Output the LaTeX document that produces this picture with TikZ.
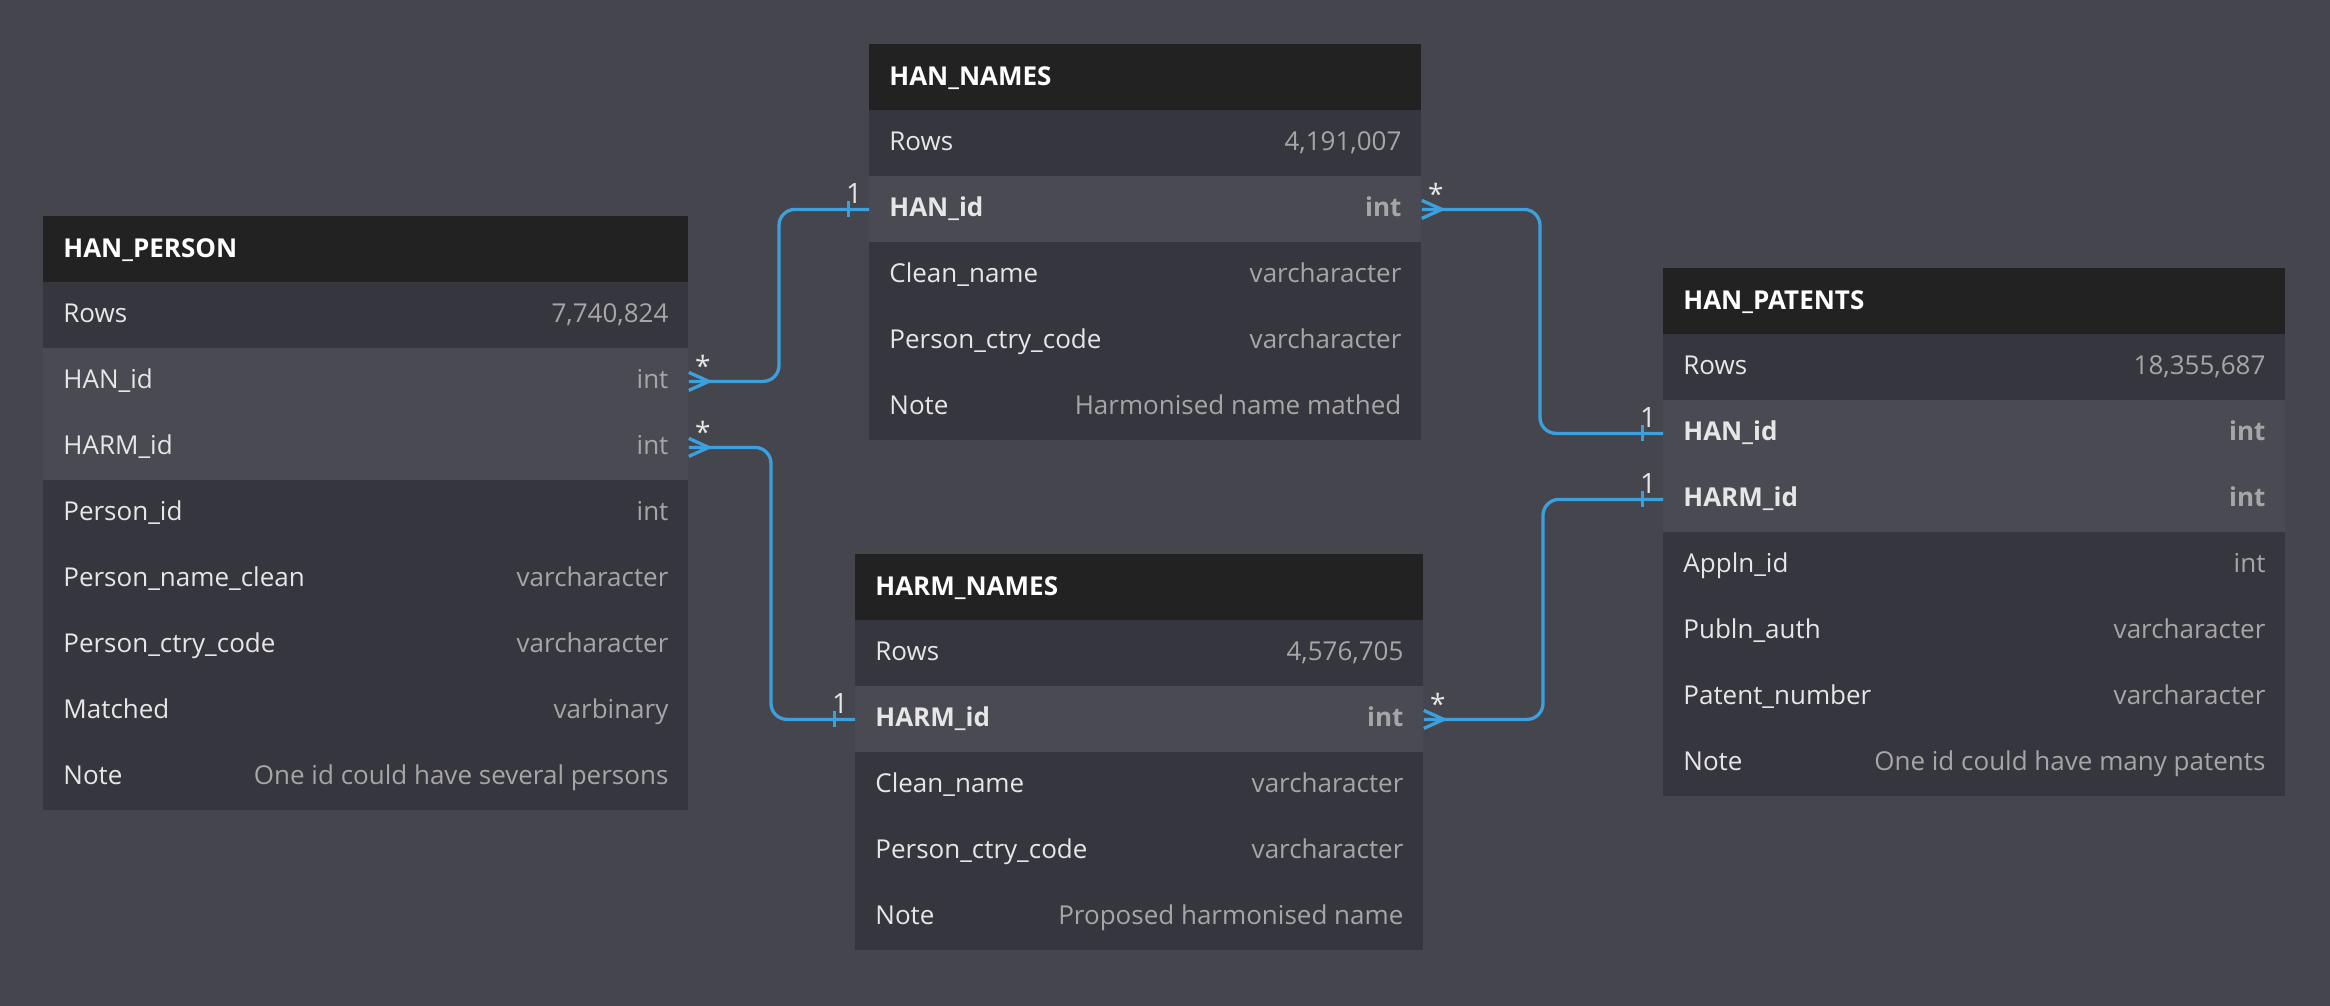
\documentclass[tikz,border=0pt]{standalone}
\usepackage{fontspec}
\setmainfont{Open Sans}
\definecolor{bgc}{HTML}{45454D}
\definecolor{nrmc}{HTML}{36363E}
\definecolor{keyc}{HTML}{4A4A53}
\definecolor{keybc}{HTML}{4A4A53}
\definecolor{hdrc}{HTML}{222222}
\definecolor{bluec}{HTML}{3DA0DC}
\definecolor{namec}{HTML}{E6E6E6}
\definecolor{typec}{HTML}{A6A6A6}
\tikzset{
  hdr/.style={rectangle, fill=hdrc, draw=none, inner sep=0pt, minimum height=33pt},
  rowbox/.style={rectangle, draw=none, inner sep=0pt, minimum height=33pt},
  ttl/.style={inner sep=0pt, text=white, font=\fontsize{13pt}{15pt}\selectfont\bfseries},
  fname/.style={inner sep=0pt, text=namec, font=\fontsize{13pt}{15pt}\selectfont},
  ftype/.style={inner sep=0pt, text=typec, font=\fontsize{13pt}{15pt}\selectfont},
  nrmf/.style={},
  keyf/.style={},
  keybf/.style={font=\fontsize{13pt}{15pt}\selectfont\bfseries},
  rel/.style={draw=bluec, line width=1.65pt, rounded corners=8pt},
  tip/.style={draw=bluec, line width=1.65pt},
  card/.style={inner sep=0pt, text=namec, font=\fontsize{14pt}{16pt}\selectfont},
}
\newcommand\ertable[6]{%
  \node[hdr, minimum width=#4*0.5pt, anchor=north west] (#1) at (#2,#3) {};
  \node[ttl, anchor=base west] (#1-title) at ([xshift=10pt,yshift=-4pt]#1.west) {#5};
  \foreach \lab/\typ/\sty [count=\i] in {#6} {
    \node[rowbox, fill=\sty c, minimum width=#4*0.5pt, anchor=north west] (#1-r\i) at (#2,{#3+66*\i}) {};
    \node[fname, \sty f, anchor=base west] (#1-n\i) at ([xshift=10pt,yshift=-3.5pt]#1-r\i.west) {\lab};
    \node[ftype, \sty f, anchor=base east] (#1-t\i) at ([xshift=-10pt,yshift=-3.5pt]#1-r\i.east) {\typ};
  }
}
\newcommand\crowfoot[1]{%
  \draw[tip] ([yshift=4.5pt]#1.east) -- ([xshift=10pt]#1.east) -- ([yshift=-4.5pt]#1.east);
  \node[card, anchor=base] (#1-star) at ([xshift=7pt,yshift=2.5pt]#1.east) {*};
}
\newcommand\onebar[1]{%
  \draw[tip, line width=1.5pt] ([xshift=-10.5pt,yshift=4pt]#1.west) -- ([xshift=-10.5pt,yshift=-4pt]#1.west);
  \node[card, anchor=base] (#1-one) at ([xshift=-7.5pt,yshift=3pt]#1.west) {1};
}
\begin{document}
\begin{tikzpicture}[x=0.5pt,y=-0.5pt]
\fill[bgc] (0,0) rectangle (2330,1006);
\useasboundingbox (0,0) rectangle (2330,1006);

\ertable{person}{43}{216}{645}{HAN\_PERSON}{%
  Rows/{7,740,824}/nrm,
  HAN\_id/int/key,
  HARM\_id/int/key,
  Person\_id/int/nrm,
  Person\_name\_clean/varcharacter/nrm,
  Person\_ctry\_code/varcharacter/nrm,
  Matched/varbinary/nrm,
  Note/One id could have several persons/nrm}

\ertable{names}{869}{44}{552}{HAN\_NAMES}{%
  Rows/{4,191,007}/nrm,
  HAN\_id/int/keyb,
  Clean\_name/varcharacter/nrm,
  Person\_ctry\_code/varcharacter/nrm,
  Note/Harmonised name mathed/nrm}

\ertable{harm}{855}{554}{568}{HARM\_NAMES}{%
  Rows/{4,576,705}/nrm,
  HARM\_id/int/keyb,
  Clean\_name/varcharacter/nrm,
  Person\_ctry\_code/varcharacter/nrm,
  Note/Proposed harmonised name/nrm}

\ertable{pat}{1663}{268}{622}{HAN\_PATENTS}{%
  Rows/{18,355,687}/nrm,
  HAN\_id/int/keyb,
  HARM\_id/int/keyb,
  Appln\_id/int/nrm,
  Publn\_auth/varcharacter/nrm,
  Patent\_number/varcharacter/nrm,
  Note/One id could have many patents/nrm}

\coordinate (v1) at (779,0);
\coordinate (v2) at (771,0);
\coordinate (v3) at (1540,0);
\coordinate (v4) at (1543,0);

\draw[rel] (person-r2.east) -| (v1 |- names-r2.west) -- (names-r2.west);
\draw[rel] (person-r3.east) -| (v2 |- harm-r2.west) -- (harm-r2.west);
\draw[rel] (names-r2.east) -| (v3 |- pat-r2.west) -- (pat-r2.west);
\draw[rel] (harm-r2.east) -| (v4 |- pat-r3.west) -- (pat-r3.west);

\crowfoot{person-r2}
\crowfoot{person-r3}
\crowfoot{names-r2}
\crowfoot{harm-r2}
\onebar{names-r2}
\onebar{harm-r2}
\onebar{pat-r2}
\onebar{pat-r3}
\end{tikzpicture}
\end{document}
